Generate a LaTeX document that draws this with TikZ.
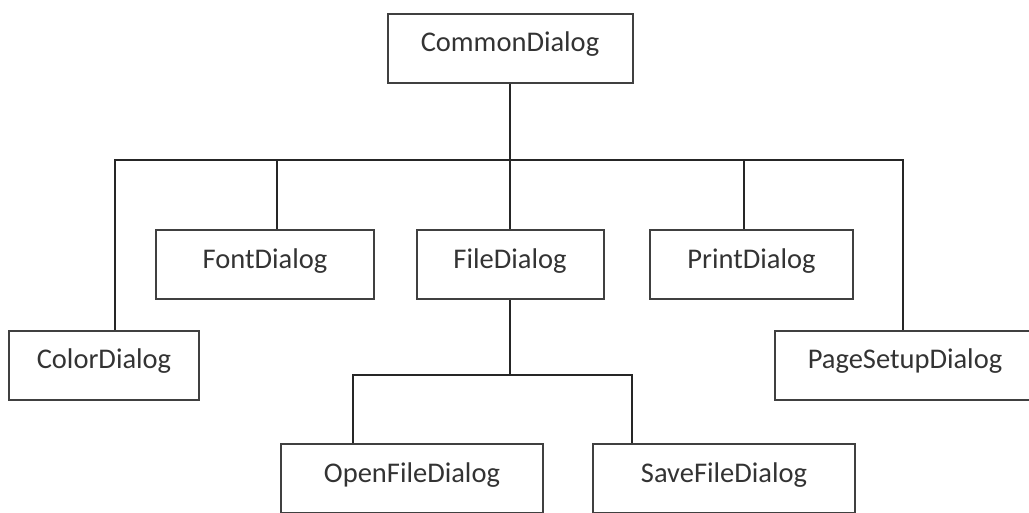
\documentclass[tikz,border=0pt]{standalone}
\usepackage{fontspec}
\setmainfont{Carlito}

\tikzset{
  dlg/.style={draw=black!75, line width=2pt, text=black!80, inner xsep=0pt, inner ysep=0pt,
    text height=38pt, text depth=31pt, font=\fontsize{28.5}{34}\selectfont},
  wire/.style={draw=black!85, line width=1.6pt}
}

\begin{document}
\begin{tikzpicture}[x=1pt,y=-1pt]
	\useasboundingbox (0,0) rectangle (1029,512);
	\clip (0,0) rectangle (1029,512);
	% classes
	\node[dlg, minimum width=245] (common) at (510,48) {CommonDialog};
	\node[dlg, minimum width=218] (font) at (265,264.5) {FontDialog};
	\node[dlg, minimum width=187] (file) at (510,264.5) {FileDialog};
	\node[dlg, minimum width=203] (print) at (751.5,264.5) {PrintDialog};
	\node[dlg, minimum width=190] (color) at (104,365) {ColorDialog};
	\node[dlg, minimum width=260] (pagesetup) at (905,365) {PageSetupDialog};
	\node[dlg, minimum width=262] (open) at (412,478.5) {OpenFileDialog};
	\node[dlg, minimum width=262] (save) at (724,478.5) {SaveFileDialog};
	% tree lines
	\coordinate (bus) at (510,160);
	\coordinate (fork) at (510,375);
	\draw[wire] (common.south) -- (bus);
	\draw[wire] ([xshift=11pt]color.north) |- (bus) -| ([xshift=-2pt]pagesetup.north);
	\draw[wire] ([xshift=12pt]font.north) |- (bus);
	\draw[wire] (file.north) -- (bus);
	\draw[wire] ([xshift=-7.5pt]print.north) |- (bus);
	\draw[wire] (file.south) -- (fork);
	\draw[wire] ([xshift=-59pt]open.north) |- (fork) -| ([xshift=-92pt]save.north);
\end{tikzpicture}
\end{document}
